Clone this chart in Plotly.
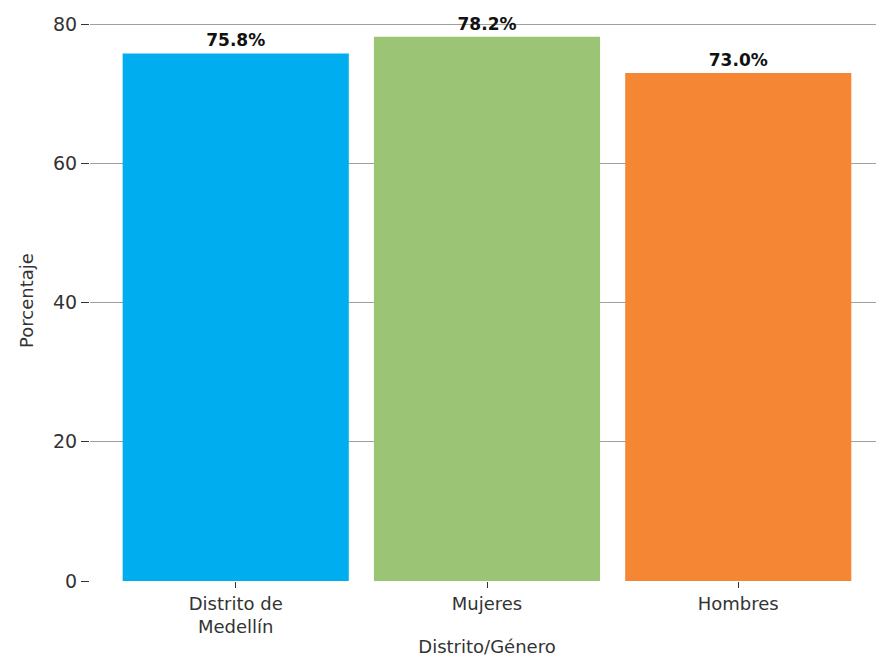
import plotly.graph_objects as go

categories = ["Distrito de<br>Medellín", "Mujeres", "Hombres"]
values = [75.8, 78.2, 73.0]
colors = ["#00AEEF", "#9BC574", "#F58634"]
value_labels = ["75.8%", "78.2%", "73.0%"]
y_ticks = [0, 20, 40, 60, 80]

FONT = "DejaVu Sans, Open Sans, sans-serif"

fig = go.Figure()
fig.add_trace(go.Bar(
    x=categories, y=values,
    marker=dict(color=colors, line=dict(width=0)),
    text=value_labels, textposition="outside",
    textfont=dict(family=FONT, size=17, color="#111111", weight="bold"),
    cliponaxis=False,
    width=0.9,
))

fig.update_layout(
    width=876, height=652,
    margin=dict(l=82, r=0, t=12, b=79),
    paper_bgcolor="white", plot_bgcolor="white",
    font=dict(family=FONT, size=17, color="#333333"),
    showlegend=False,
    bargap=0.1,
)
fig.update_xaxes(
    range=[-0.58, 2.58],
    showgrid=False, showline=False, zeroline=False,
    ticks="outside", ticklen=6, tickcolor="#333333", tickwidth=1,
    tickfont=dict(size=18, color="#333333"),
    title=dict(text="Distrito/Género", font=dict(size=18, color="#333333"), standoff=4),
)
fig.update_yaxes(
    range=[0, 80.6],
    tickvals=y_ticks,
    showgrid=True, gridcolor="#A0A0A0", gridwidth=1,
    zeroline=False, showline=False,
    ticks="outside", ticklen=8, tickcolor="#333333", tickwidth=1,
    tickfont=dict(size=19, color="#333333"),
    title=dict(text="Porcentaje", font=dict(size=18, color="#333333"), standoff=14),
)

fig.write_html("out.html")
